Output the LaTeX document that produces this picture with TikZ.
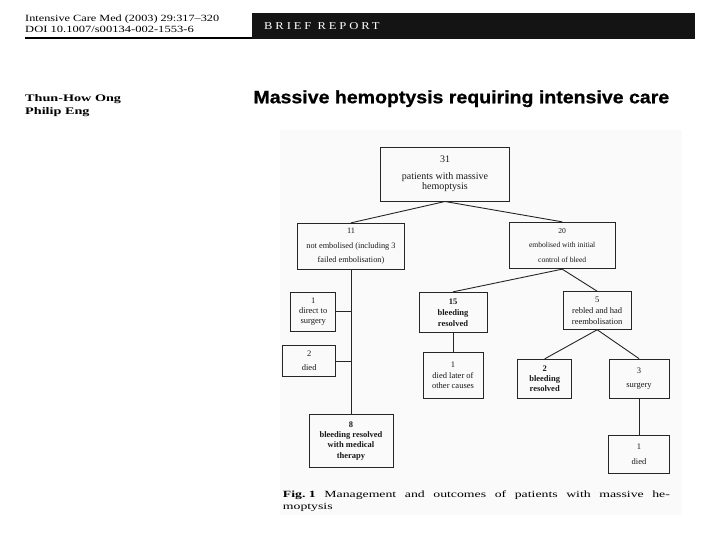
\documentclass[tikz,border=0pt]{standalone}
\usepackage{fontspec}
\setmainfont{Liberation Serif}
\newfontfamily\titlefont{Liberation Sans}[BoldFeatures={FakeBold=0.7}]
\newfontfamily\spacedfont{Liberation Serif}[LetterSpace=23]
\begin{document}
\begin{tikzpicture}[x=1pt,y=-1pt,
  box/.style={draw=black!85, line width=0.9pt, inner sep=1pt, align=center, text=black!90},
  conn/.style={draw=black!85, line width=0.9pt},
  plain/.style={anchor=base west, inner sep=0pt}]
\useasboundingbox (0,0) rectangle (720,540);
\fill[fill={rgb,255:red,250;green,250;blue,250}] (280,130) rectangle (682,515);

% header
\node[plain, font=\fontsize{9.5}{11}\selectfont] (hdr1) at (25,22) {\scalebox{1.29}[1]{Intensive Care Med (2003) 29:317–320}};
\node[plain, font=\fontsize{9.5}{11}\selectfont] (hdr2) at (25,32.3) {\scalebox{1.32}[1]{DOI 10.1007/s00134-002-1553-6}};
\draw[line width=1.6pt] (25,38) -- (252,38);
\fill[black!92] (251.7,13.3) rectangle (695,38.6);
\node[plain, text=white] (brief) at (264,29.6) {\scalebox{1.2}[1]{\spacedfont\fontsize{10.5}{12}\selectfont BRIEF REPORT}};

% authors and title
\node[plain, font=\fontsize{10}{12}\selectfont\bfseries] (auth1) at (25,101.7) {\scalebox{1.42}[1]{Thun-How Ong}};
\node[plain, font=\fontsize{10}{12}\selectfont\bfseries] (auth2) at (25,114.3) {\scalebox{1.42}[1]{Philip Eng}};
\node[plain] (title) at (253.3,103.3) {\scalebox{1.085}[1]{\titlefont\bfseries\fontsize{18}{20}\selectfont Massive hemoptysis requiring intensive care}};

% boxes
\node[box, minimum width=128.6pt, minimum height=53.7pt, font=\fontsize{10}{10}\selectfont] (top) at (445,174.2) {31\\[7pt]patients with massive\\hemoptysis};
\node[box, minimum width=106.6pt, minimum height=46pt, font=\fontsize{8.3}{14.5}\selectfont] (n11) at (351,246.3) {11\\not embolised (including 3\\failed embolisation)};
\node[box, minimum width=105.7pt, minimum height=46.4pt, font=\fontsize{7.6}{14.3}\selectfont] (n20) at (562.2,245.5) {20\\embolised with initial\\control of bleed};
\node[box, minimum width=45pt, minimum height=38.3pt, font=\fontsize{8.5}{10.3}\selectfont] (n1s) at (313.2,311.8) {1\\direct to\\surgery};
\node[box, minimum width=53pt, minimum height=31pt, font=\fontsize{8.5}{14}\selectfont] (n2d) at (309.2,361.2) {2\\died};
\node[box, minimum width=68pt, minimum height=40.4pt, font=\fontsize{8.5}{10.8}\selectfont\bfseries] (n15) at (453,312.5) {15\\bleeding\\resolved};
\node[box, minimum width=67.7pt, minimum height=37.6pt, font=\fontsize{8.5}{10.8}\selectfont] (n5) at (597.2,310.5) {5\\rebled and had\\reembolisation};
\node[box, minimum width=60pt, minimum height=46pt, font=\fontsize{8.5}{10.5}\selectfont] (n1l) at (453,375.3) {1\\died later of\\other causes};
\node[box, minimum width=54pt, minimum height=39pt, font=\fontsize{8.5}{10}\selectfont\bfseries] (n2b) at (544.7,378.8) {2\\bleeding\\resolved};
\node[box, minimum width=60pt, minimum height=39.3pt, font=\fontsize{8.5}{14.3}\selectfont] (n3) at (639,378.7) {3\\surgery};
\node[box, minimum width=84pt, minimum height=53.7pt, font=\fontsize{8.5}{10.2}\selectfont\bfseries] (n8) at (351,440.9) {8\\bleeding resolved\\with medical\\therapy};
\node[box, minimum width=61pt, minimum height=38.3pt, font=\fontsize{8.5}{15.5}\selectfont] (n1d) at (639,454.2) {1\\died};

% connectors
\draw[conn] (top.south) -- (n11.north);
\draw[conn] (top.south) -- (n20.north);
\draw[conn] (n11.south) -- (n8.north);
\draw[conn] (n1s.east) -- (n1s.east -| n11.south);
\draw[conn] (n2d.east) -- (n2d.east -| n11.south);
\draw[conn] (n20.south) -- (n15.north);
\draw[conn] (n20.south) -- (n5.north);
\draw[conn] (n15.south) -- (n1l.north);
\draw[conn] (n5.south) -- (n2b.north);
\draw[conn] (n5.south) -- (n3.north);
\draw[conn] (n3.south) -- (n1d.north);

% caption
\node[plain, font=\fontsize{9.5}{11}\selectfont] (cap1) at (282.7,497.3) {\scalebox{1.45}[1]{\makebox[266.9pt][s]{\hbox{\textbf{Fig.\ 1}} Management and outcomes of patients with massive he-}}};
\node[plain, font=\fontsize{9.5}{11}\selectfont] (cap2) at (282.7,509.3) {\scalebox{1.45}[1]{moptysis}};
\end{tikzpicture}
\end{document}
